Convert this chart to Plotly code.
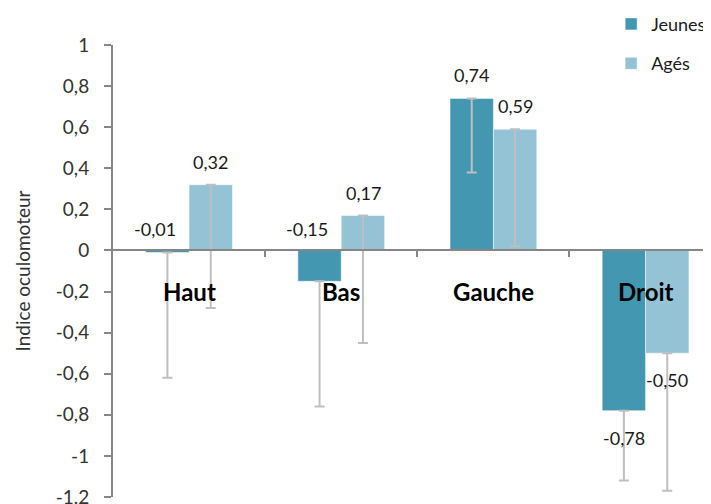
import plotly.graph_objects as go

# Data
categories = ["Haut", "Bas", "Gauche", "Droit"]
jeunes = [-0.01, -0.15, 0.74, -0.78]
ages = [0.32, 0.17, 0.59, -0.50]
jeunes_err = [0.61, 0.61, 0.36, 0.34]
ages_err = [0.60, 0.62, 0.57, 0.67]
ytick_vals = [1, 0.8, 0.6, 0.4, 0.2, 0, -0.2, -0.4, -0.6, -0.8, -1, -1.2]
ytick_text = ["1", "0,8", "0,6", "0,4", "0,2", "0", "-0,2", "-0,4", "-0,6", "-0,8", "-1", "-1,2"]

x = list(range(len(categories)))
font_family = "Lato, 'Open Sans', sans-serif"
c_jeunes = "#4397b0"
c_ages = "#93c3d5"
err_style = dict(type="data", symmetric=False, color="#bfbfbf", thickness=2, width=5)

fig = go.Figure()
fig.add_trace(go.Bar(
    x=x, y=jeunes, name="Jeunes", marker_color=c_jeunes,
    marker_line=dict(color="white", width=0.5),
    legendgroup="j",
    error_y=dict(err_style, arrayminus=jeunes_err, array=[0] * 4),
))
fig.add_trace(go.Bar(
    x=x, y=ages, name="Agés", marker_color=c_ages,
    marker_line=dict(color="white", width=0.5),
    legendgroup="a",
    error_y=dict(err_style, arrayminus=ages_err, array=[0] * 4),
))

def fmt(v):
    return f"{v:.2f}".replace(".", ",")

# value labels
offset = 0.143
lbl_font = dict(size=18, color="#1a1a1a", family=font_family)
for i in x:
    for v, dx in ((jeunes[i], -offset), (ages[i], offset)):
        if v > -0.3:
            fig.add_annotation(x=i + dx, y=max(v, 0), text=fmt(v), showarrow=False,
                               yanchor="bottom", yshift=8 if v < 0 else 10,
                               xshift=-12 if v < 0 else 0, font=lbl_font)
        else:
            fig.add_annotation(x=i + dx, y=v, text=fmt(v), showarrow=False,
                               yanchor="top", yshift=-14, font=lbl_font)

# category labels inside the plot
for i, c in enumerate(categories):
    fig.add_annotation(x=i, y=-0.2, text=f"<b>{c}</b>", showarrow=False,
                       font=dict(size=24, color="black", family=font_family))

ymin, ymax = -1.2, 1.0

fig.update_layout(
    width=711, height=504,
    margin=dict(l=105, r=8, t=37, b=15, autoexpand=False),
    paper_bgcolor="white", plot_bgcolor="white",
    font=dict(family=font_family, size=18, color="#333333"),
    barmode="group", bargap=0.43, bargroupgap=0,
    showlegend=True,
    legend=dict(x=0.833, y=1.087, xanchor="left", yanchor="top",
                font=dict(size=18, color="#1a1a1a"),
                traceorder="grouped", tracegroupgap=13,
                bgcolor="rgba(0,0,0,0)"),
    xaxis=dict(range=[-0.5, 3.43], anchor="free",
               position=(0 - ymin) / (ymax - ymin),
               showline=True, linecolor="#868686", linewidth=2,
               tickvals=[0.5, 1.5, 2.5], ticks="outside", ticklen=6,
               tickcolor="#868686", tickwidth=2,
               showticklabels=False, showgrid=False, zeroline=False),
    yaxis=dict(range=[ymin, ymax], automargin=False,
               tickvals=ytick_vals, ticktext=ytick_text,
               showline=True, linecolor="#868686", linewidth=2,
               ticks="outside", ticklen=7, tickcolor="#868686", tickwidth=2,
               ticklabelstandoff=11,
               showgrid=False, zeroline=False,
               tickfont=dict(size=19, color="#333333"),
               title=dict(text="Indice oculomoteur", standoff=20,
                          font=dict(size=19, color="#333333"))),
)

fig.write_html("out.html")
